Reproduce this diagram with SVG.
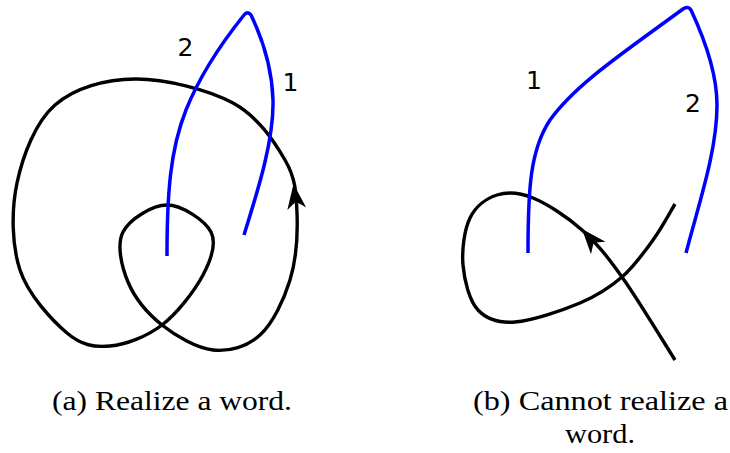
<svg xmlns="http://www.w3.org/2000/svg" width="730" height="453" viewBox="0 0 730 453">
<style>
.k{fill:none;stroke:#000;stroke-width:3.4;stroke-linecap:butt;stroke-linejoin:round}
.b{fill:none;stroke:#0000ff;stroke-width:3.5;stroke-linecap:butt;stroke-linejoin:round}
.lab{font-family:"DejaVu Sans",sans-serif;font-size:25px;fill:#000;text-anchor:middle}
.cap{font-family:"Liberation Serif","DejaVu Serif",serif;font-size:28px;fill:#000}
</style>
<defs>
<path id="ah" d="M0,0 L-25,-9.5 Q-20,-3 -18,0 Q-20,3 -25,9.5 Z" fill="#000"/>
</defs>
<g id="panel-a">
<g id="curve-a">
<path class="k" d="M297,213 C296.2,193 295.7,178.3 285,160 C274.3,141.7 258,116.5 233,103 C208,89.5 164.7,78.7 135,79 C105.3,79.3 74.7,87.7 55,105 C35.3,122.3 22.8,155.5 17,183 C11.2,210.5 11.7,245 20,270 C28.3,295 52,320.3 67,333 C82,345.7 94.2,347.3 110,346 C125.8,344.7 146.5,336.8 162,325 C177.5,313.2 194.8,290.5 203,275 C211.2,259.5 217,243.7 211,232 C205,220.3 181.7,205 167,205 C152.3,205 129.5,219.2 123,232 C116.5,244.8 121.5,266.5 128,282 C134.5,297.5 147.8,313.7 162,325 C176.2,336.3 196.7,348.3 213,350 C229.3,351.7 247.2,346.7 260,335 C272.8,323.3 283.8,300.3 290,280 C296.2,259.7 297.8,233 297,213 Z"/>
<use href="#ah" transform="translate(293.5,184) rotate(-97.5)"/>
</g>
<g id="blue-a">
<path class="b" d="M167,256 C167,195 170,150 186,110 C200,75 220,45 244,15 Q247.5,10.5 251,15 C262,38 272,68 273,100 C274,140 258,190 244,235"/>
</g>
<g id="labels-a">
<text class="lab" x="185.5" y="56">2</text>
<text class="lab" x="290.5" y="91">1</text>
</g>
<text class="cap" font-family="Liberation Serif, serif" x="52" y="410" textLength="240" lengthAdjust="spacingAndGlyphs">(a) Realize a word.</text>
</g>
<g id="panel-b">
<g id="curve-b">
<path class="k" d="M675,360 C666.2,346.2 637.5,298.7 622,277 C606.5,255.3 596.8,243.2 582,230 C567.2,216.8 547.2,203.8 533,198 C518.8,192.2 507.5,191.7 497,195 C486.5,198.3 475.7,206.3 470,218 C464.3,229.7 461.7,249.7 463,265 C464.3,280.3 469.3,300.5 478,310 C486.7,319.5 498,323.2 515,322 C532,320.8 562.2,310.5 580,303 C597.8,295.5 609.8,287.5 622,277 C634.2,266.5 644.2,252.2 653,240 C661.8,227.8 671.3,210 675,204"/>
<use href="#ah" transform="translate(582,229) rotate(-130.5)"/>
</g>
<g id="blue-b">
<path class="b" d="M528,253 C528,190 530,150 550,120 C575,85 620,55 683,9 Q688,5.5 691,10 C705,40 717,75 717,105 C717,150 700,200 686,253"/>
</g>
<g id="labels-b">
<text class="lab" x="534" y="89">1</text>
<text class="lab" x="693" y="111.5">2</text>
</g>
<text class="cap" font-family="Liberation Serif, serif" x="473" y="410" textLength="255" lengthAdjust="spacingAndGlyphs">(b) Cannot realize a</text>
<text class="cap" font-family="Liberation Serif, serif" x="565" y="443" textLength="70" lengthAdjust="spacingAndGlyphs">word.</text>
</g>
</svg>
